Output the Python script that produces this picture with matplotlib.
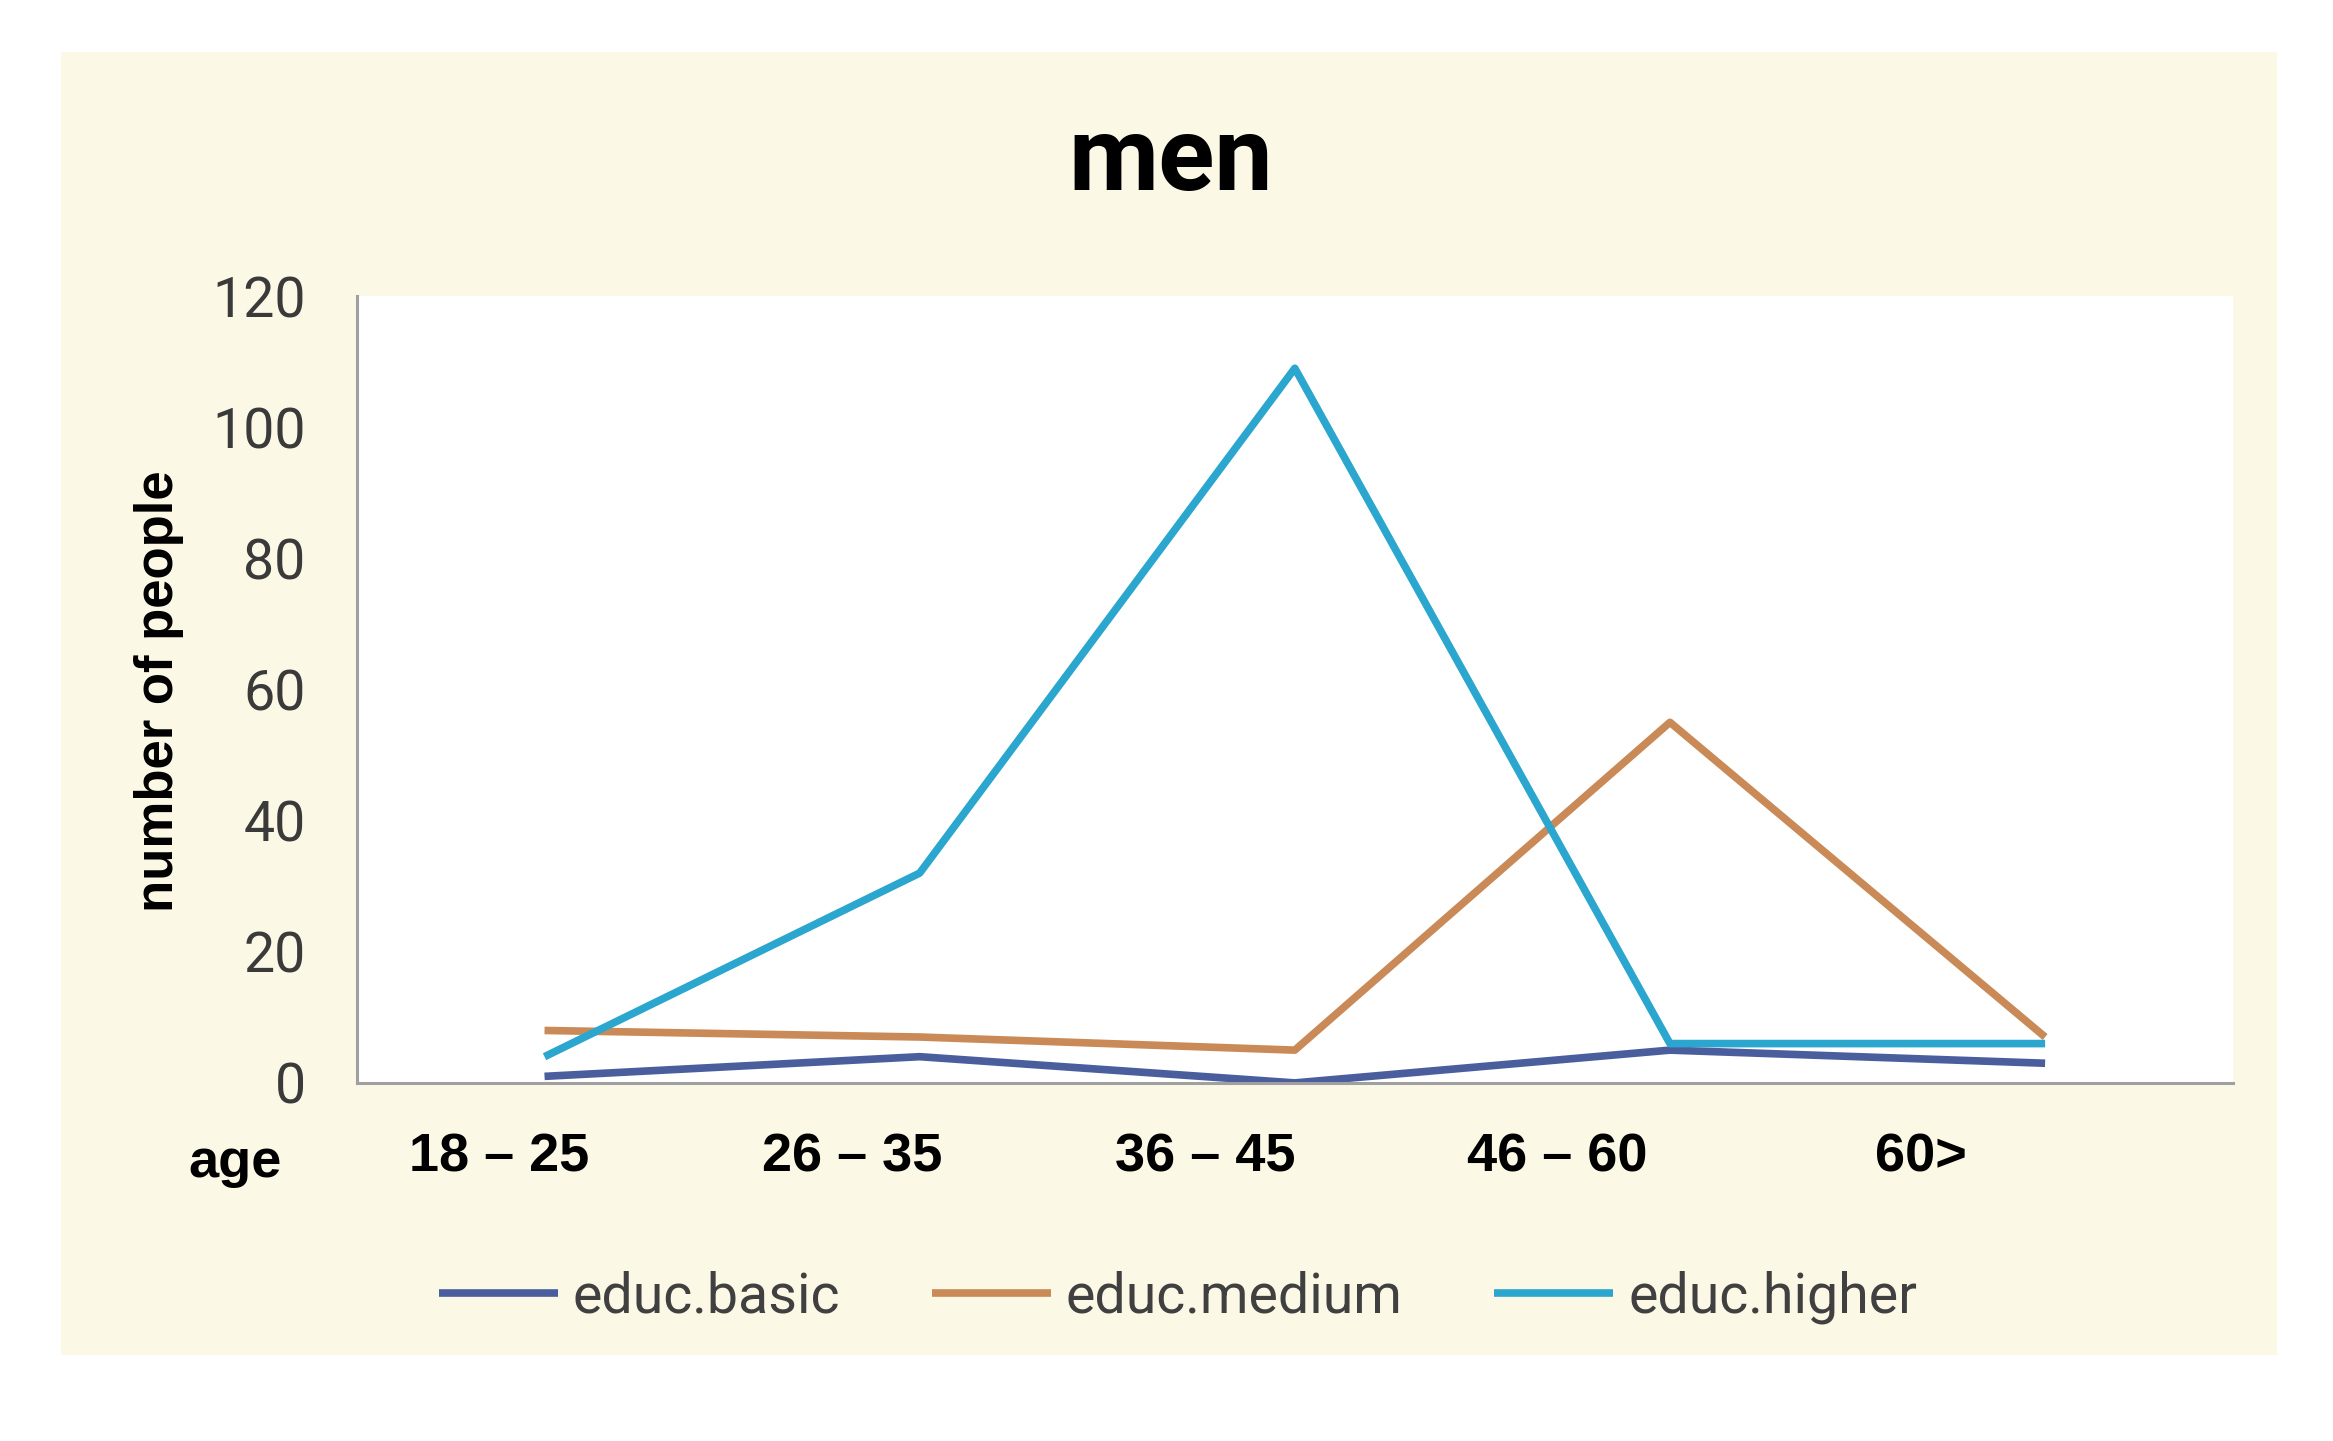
import matplotlib.pyplot as plt
from matplotlib.patches import Rectangle

# data
age_groups = ['18 – 25', '26 – 35', '36 – 45', '46 – 60', '60>']
educ_basic = [1, 4, 0, 5, 3]
educ_medium = [8, 7, 5, 55, 7]
educ_higher = [4, 32, 109, 6, 6]
y_ticks = [0, 20, 40, 60, 80, 100, 120]

# the age labels sit a bit left of the data points in the original
label_pos = [-0.12, 0.82, 1.76, 2.70, 3.67]

fig = plt.figure(figsize=(23.33, 14.41), dpi=100)
fig.patch.set_facecolor('white')
fig.patches.append(Rectangle((0.026, 0.06), 0.95, 0.904, transform=fig.transFigure,
                             facecolor='#fbf8e6', edgecolor='none', zorder=-10))

ax = fig.add_axes([0.153, 0.2485, 0.804, 0.546])
ax.set_zorder(1)
ax.set_facecolor('white')

x = range(len(age_groups))
ax.plot(x, educ_basic, color='#4a5e9e', lw=5.5, label='educ.basic', solid_capstyle='butt')
ax.plot(x, educ_medium, color='#c98a58', lw=5.5, label='educ.medium', solid_capstyle='butt')
ax.plot(x, educ_higher, color='#2ba6cf', lw=5.5, label='educ.higher', solid_capstyle='butt')

ax.set_xlim(-0.5, 4.5)
ax.set_ylim(0, 120)
ax.set_yticks(y_ticks)
ax.set_xticks(label_pos)
ax.set_xticklabels(age_groups, fontfamily='Liberation Sans', fontweight='bold', fontsize=39)
ax.tick_params(axis='y', length=0, pad=37, labelsize=40, labelcolor='#3a3a3a')
ax.tick_params(axis='x', length=0, pad=36)
for t in ax.get_yticklabels():
    t.set_fontfamily('Roboto')

for side in ['top', 'right']:
    ax.spines[side].set_visible(False)
for side in ['left', 'bottom']:
    ax.spines[side].set_color('#a0a0a0')
    ax.spines[side].set_linewidth(2.2)

fig.text(0.502, 0.868, 'men', ha='center', va='baseline', fontsize=75,
         fontweight='bold', fontfamily='Roboto')
fig.text(0.068, 0.52, 'number of people', rotation=90, ha='center', va='center',
         fontsize=38, fontweight='bold', fontfamily='Liberation Sans')
fig.text(0.1007, 0.183, 'age', ha='center', va='baseline', fontsize=39,
         fontweight='bold', fontfamily='Liberation Sans')

leg = fig.legend(loc='center', bbox_to_anchor=(0.505, 0.10), ncol=3, frameon=False,
                 prop={'family': 'Roboto', 'size': 40}, handlelength=2.14,
                 handletextpad=0.27, columnspacing=1.65)
for t in leg.get_texts():
    t.set_color('#404040')

fig.savefig('out.png', dpi=100)
